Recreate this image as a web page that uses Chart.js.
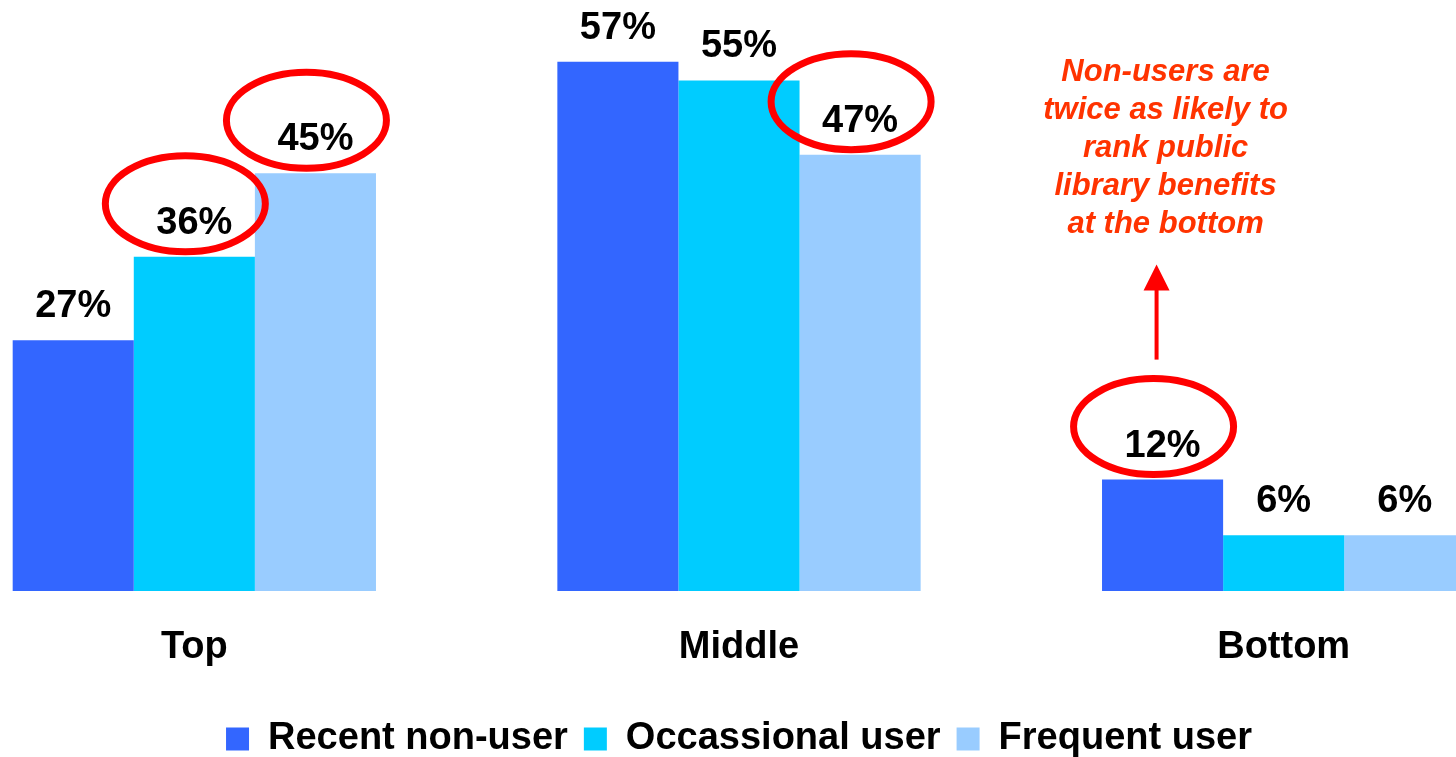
<!DOCTYPE html>
<html>

<head>
  <title>Library benefit ranking</title>
  <style>
    body { margin: 0; background: #fff; overflow: hidden; }
    #wrap { position: relative; width: 1456px; height: 757px; overflow: hidden; }
    #chart { position: absolute; left: -78px; top: 0; }
  </style>
</head>

<body>
  <div id="wrap">
    <canvas id="chart" width="1634" height="768"></canvas>
  </div>
  <script src="https://cdn.jsdelivr.net/npm/chart.js"></script>
  <script>
    const categories = ['Top', 'Middle', 'Bottom'];
    const seriesNames = ['Recent non-user', 'Occassional user', 'Frequent user'];
    const recentNonUser = [27, 57, 12];
    const occasionalUser = [36, 55, 6];
    const frequentUser = [45, 47, 6];
    // [dataset, category] pairs that get a red ring
    const circled = [[1, 0], [2, 0], [2, 1], [0, 2]];
    const noteLines = ['Non-users are', 'twice as likely to', 'rank public', 'library benefits', 'at the bottom'];

    const FONT = "'Liberation Sans', Arial, sans-serif";

    const labelsPlugin = {
      id: 'barLabels',
      afterDatasetsDraw(chart) {
        const ctx = chart.ctx;
        ctx.save();
        ctx.font = 'bold 38px ' + FONT;
        ctx.fillStyle = '#000';
        ctx.textAlign = 'center';
        ctx.textBaseline = 'alphabetic';
        chart.data.datasets.forEach((ds, i) => {
          chart.getDatasetMeta(i).data.forEach((bar, j) => {
            ctx.fillText(ds.data[j] + '%', bar.x, bar.y - 23);
          });
        });

        // red rings
        ctx.strokeStyle = '#ff0000';
        ctx.lineWidth = 7;
        circled.forEach(([d, c]) => {
          const bar = chart.getDatasetMeta(d).data[c];
          ctx.beginPath();
          ctx.ellipse(bar.x - 9, bar.y - 53, 80, 48, 0, 0, Math.PI * 2);
          ctx.stroke();
        });

        // arrow + note above the non-user "Bottom" bar
        const b = chart.getDatasetMeta(0).data[2];
        const ax = b.x - 6;
        ctx.strokeStyle = '#ff0000';
        ctx.fillStyle = '#ff0000';
        ctx.lineWidth = 4;
        ctx.beginPath();
        ctx.moveTo(ax, b.y - 120);
        ctx.lineTo(ax, b.y - 192);
        ctx.stroke();
        ctx.beginPath();
        ctx.moveTo(ax, b.y - 215);
        ctx.lineTo(ax - 13, b.y - 189);
        ctx.lineTo(ax + 13, b.y - 189);
        ctx.closePath();
        ctx.fill();

        ctx.font = 'italic bold 31px ' + FONT;
        ctx.fillStyle = '#ff3300';
        noteLines.forEach((line, k) => {
          ctx.fillText(line, b.x + 3, b.y - 399 + k * 38);
        });
        ctx.restore();
      }
    };

    const ctx = document.getElementById('chart').getContext('2d');
    const barChart = new Chart(ctx, {
      type: 'bar',
      data: {
        labels: categories,
        datasets: [
          { label: seriesNames[0], data: recentNonUser, backgroundColor: '#3366ff' },
          { label: seriesNames[1], data: occasionalUser, backgroundColor: '#00ccff' },
          { label: seriesNames[2], data: frequentUser, backgroundColor: '#99ccff' }
        ]
      },
      options: {
        responsive: false,
        animation: false,
        events: [],
        categoryPercentage: 0.667,
        barPercentage: 1,
        layout: { padding: { top: 34, left: 0, right: 0, bottom: 0 } },
        scales: {
          x: {
            grid: { display: false, drawTicks: false },
            border: { display: false },
            ticks: {
              color: '#000',
              padding: 3,
              font: { family: FONT, size: 38, weight: 'bold', lineHeight: '107px' }
            }
          },
          y: { display: false, min: 0, max: 60 }
        },
        plugins: {
          legend: {
            position: 'bottom',
            labels: {
              color: '#000',
              boxWidth: 23,
              boxHeight: 23,
              padding: 16,
              font: { family: FONT, size: 38, weight: 'bold' }
            }
          },
          tooltip: { enabled: false }
        }
      },
      plugins: [labelsPlugin]
    });
  </script>
</body>

</html>
